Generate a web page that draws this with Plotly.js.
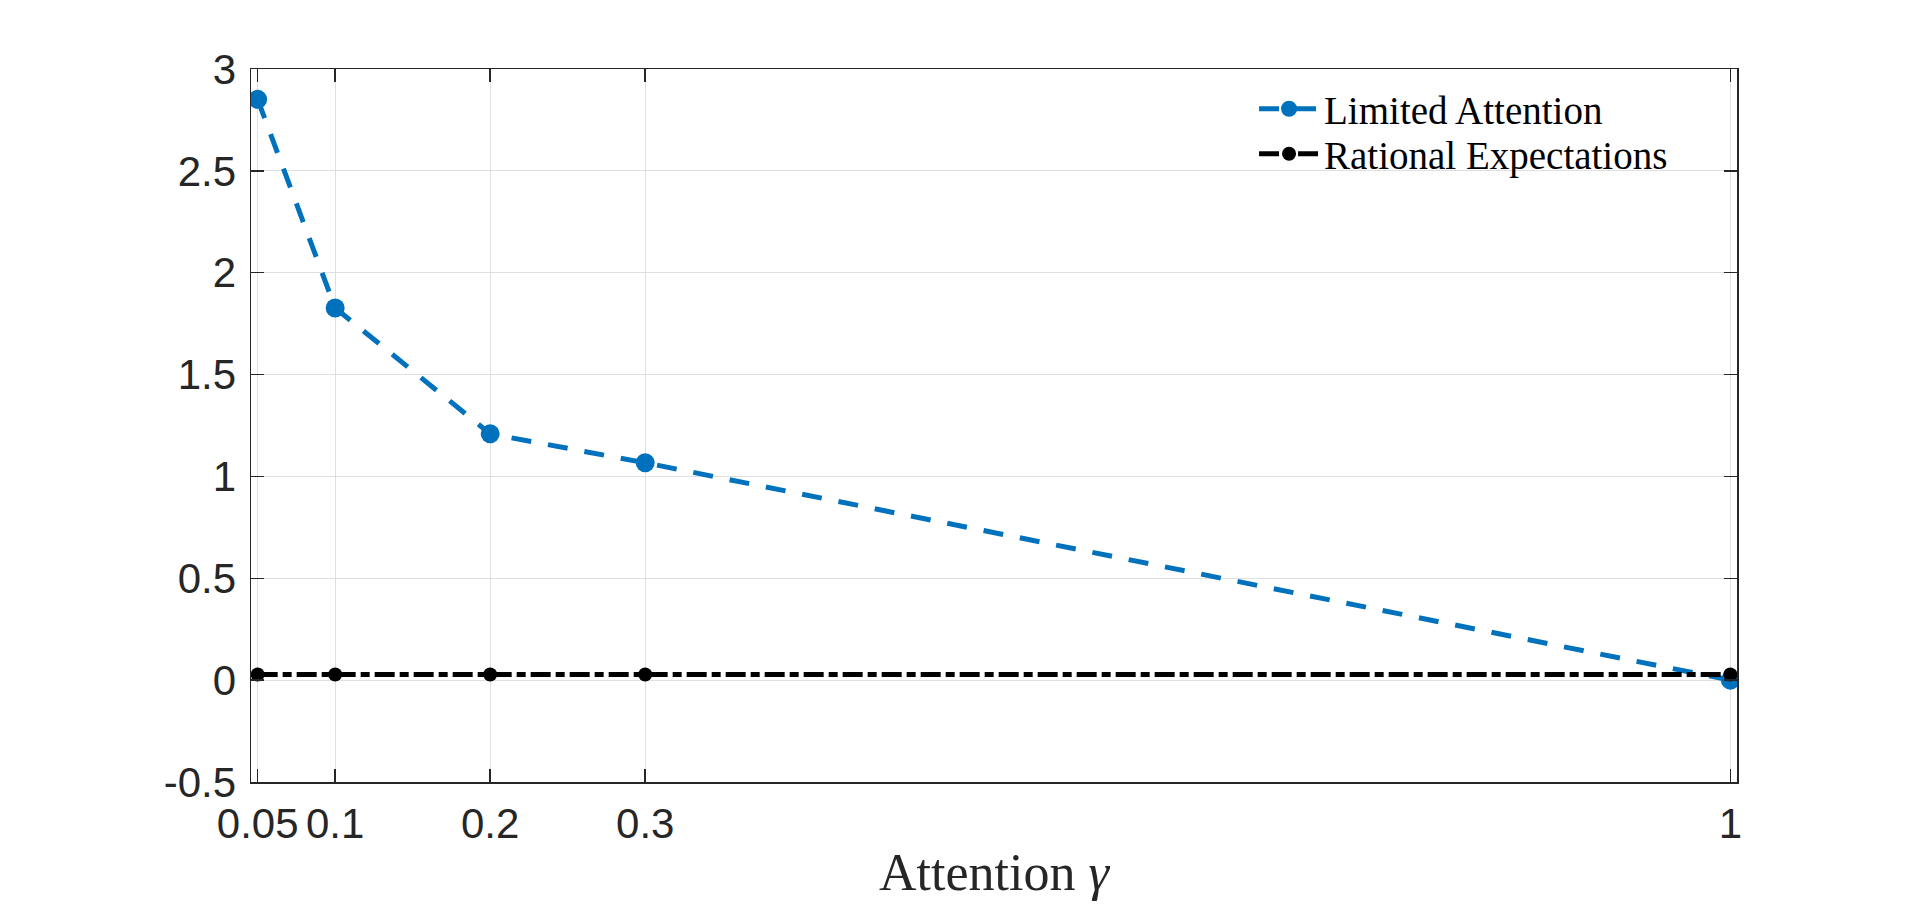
<!DOCTYPE html>
<html>
<head>
<meta charset="utf-8">
<script src="https://cdn.plot.ly/plotly-3.0.1.min.js"></script>
<style>
  html, body { margin: 0; padding: 0; background: #fff; }
  #chart { width: 1920px; height: 911px; }
</style>
</head>
<body>
<div id="chart"></div>
<script>
// Data
const gamma = [0.05, 0.1, 0.2, 0.3, 1];
const limitedAttention = [2.851, 1.827, 1.209, 1.067, 0.0];
const rationalExpectations = [0.028, 0.028, 0.028, 0.028, 0.028];

const xTickVals = [0.05, 0.1, 0.2, 0.3, 1];
const xTickText = ['0.05', '0.1', '0.2', '0.3', '1'];
const yTickVals = [-0.5, 0, 0.5, 1, 1.5, 2, 2.5, 3];
const yTickText = ['-0.5', '0', '0.5', '1', '1.5', '2', '2.5', '3'];

const seriesNames = ['Limited Attention', 'Rational Expectations'];

const axisColor = '#262626';
const gridColor = '#dfdfdf';
const tickFont = { family: 'Liberation Sans, Arial, sans-serif', size: 42, color: axisColor };
const serifFont = 'Liberation Serif, Times New Roman, serif';

const traces = [
  {
    x: gamma, y: limitedAttention, name: seriesNames[0],
    type: 'scatter', mode: 'lines+markers',
    line: { color: '#0072BD', width: 5, dash: '20px,17px' },
    marker: { color: '#0072BD', size: 19, symbol: 'circle' },
    legend: 'legend'
  },
  {
    x: gamma, y: rationalExpectations, name: seriesNames[1],
    type: 'scatter', mode: 'lines+markers',
    line: { color: '#000000', width: 5, dash: '20px,5px,9px,5px' },
    marker: { color: '#000000', size: 14, symbol: 'circle' },
    legend: 'legend2'
  }
];

const legendCommon = {
  xanchor: 'left', yanchor: 'middle',
  bgcolor: 'rgba(0,0,0,0)', borderwidth: 0,
  font: { family: serifFont, size: 39, color: '#000' },
  itemwidth: 60, tracegroupgap: 0
};

const layout = {
  width: 1920, height: 911,
  paper_bgcolor: '#ffffff', plot_bgcolor: '#ffffff',
  margin: { l: 251, r: 183, t: 69, b: 129 },
  showlegend: true,
  legend: Object.assign({}, legendCommon, { x: 0.675, y: 0.944 }),
  legend2: Object.assign({}, legendCommon, { x: 0.675, y: 0.881 }),
  xaxis: {
    range: [0.0457, 1.0043],
    tickmode: 'array', tickvals: xTickVals, ticktext: xTickText,
    tickangle: 0,
    ticks: 'inside', ticklen: 13, tickwidth: 1.5, tickcolor: axisColor,
    showline: true, linecolor: axisColor, linewidth: 1.5, mirror: 'ticks',
    showgrid: true, gridcolor: gridColor, gridwidth: 1,
    zeroline: false,
    tickfont: tickFont,
    ticklabelstandoff: 4,
    title: { text: 'Attention <i>γ</i>', font: { family: serifFont, size: 52, color: axisColor }, standoff: 7 }
  },
  yaxis: {
    range: [-0.5, 3],
    tickmode: 'array', tickvals: yTickVals, ticktext: yTickText,
    ticks: 'inside', ticklen: 13, tickwidth: 1.5, tickcolor: axisColor,
    showline: true, linecolor: axisColor, linewidth: 1.5, mirror: 'ticks',
    showgrid: true, gridcolor: gridColor, gridwidth: 1,
    zeroline: false,
    tickfont: tickFont,
    ticklabelstandoff: 5
  }
};

Plotly.newPlot('chart', traces, layout, { displayModeBar: false, staticPlot: true });
</script>
</body>
</html>
